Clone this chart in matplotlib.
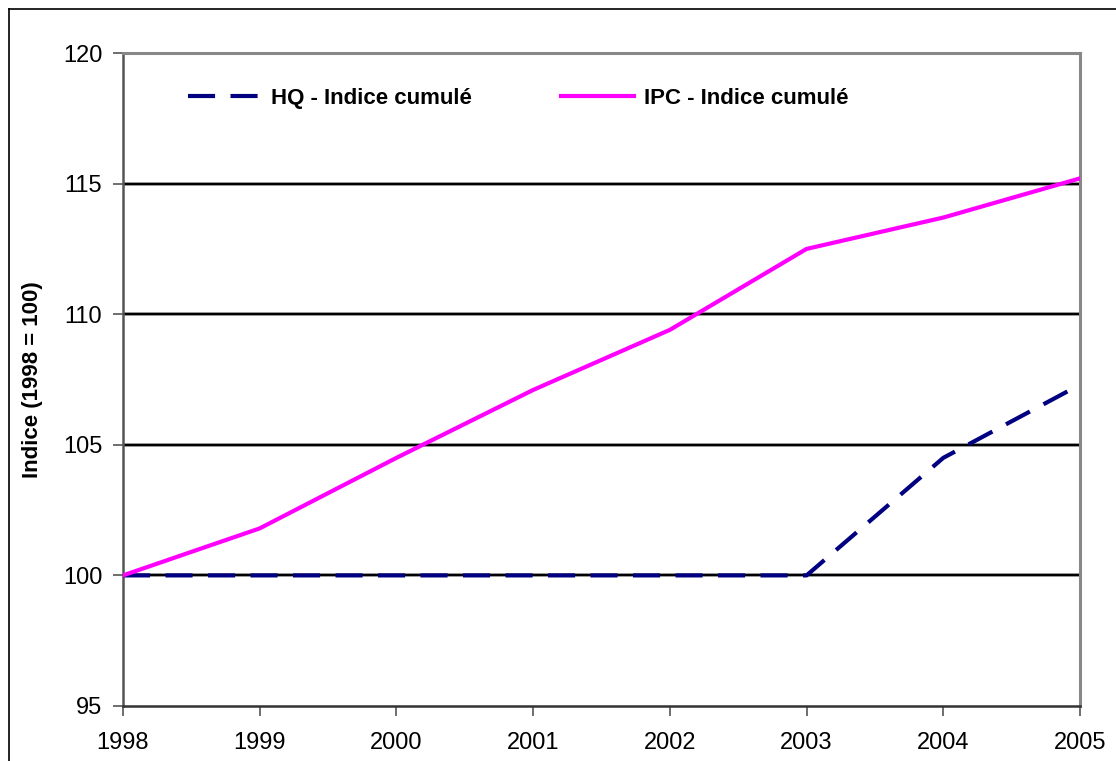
import matplotlib
matplotlib.use("Agg")
import matplotlib.pyplot as plt
from matplotlib.lines import Line2D

plt.rcParams['font.family'] = ['Liberation Sans', 'DejaVu Sans']

years = [1998, 1999, 2000, 2001, 2002, 2003, 2004, 2005]
hq_values = [100.0, 100.0, 100.0, 100.0, 100.0, 100.0, 104.5, 107.3]
ipc_values = [100.0, 101.8, 104.5, 107.1, 109.4, 112.5, 113.7, 115.2]
hq_label = "HQ - Indice cumulé"
ipc_label = "IPC - Indice cumulé"
y_ticks = [95, 100, 105, 110, 115, 120]
y_label = "Indice (1998 = 100)"

W, H = 1116, 761
fig = plt.figure(figsize=(W / 100, H / 100), dpi=100)
ax = fig.add_axes([123 / W, 1 - 706 / H, (1080 - 123) / W, (706 - 53) / H])

# grid lines
for v in y_ticks[1:-1]:
    ax.axhline(v, color='#999999', linewidth=2.6, zorder=1)
    ax.axhline(v, color='black', linewidth=1.6, zorder=1)

ax.plot(years, hq_values, color='#000080', linewidth=3.0, dashes=(6.5, 3.7),
        label=hq_label, zorder=3, dash_capstyle='butt')
ax.plot(years, ipc_values, color='#FF00FF', linewidth=3.0,
        label=ipc_label, zorder=3)

ax.set_xlim(1998, 2005)
ax.set_ylim(95, 120)
ax.set_xticks(years)
ax.set_yticks(y_ticks)
ax.tick_params(axis='both', direction='out', length=7, width=1.2,
               colors='#555555', labelcolor='black', labelsize=17)
ax.tick_params(axis='y', pad=8)
ax.tick_params(axis='x', pad=12)

for side in ['top', 'right']:
    ax.spines[side].set_color('#888888')
    ax.spines[side].set_linewidth(2.2)
ax.spines['left'].set_color('#555555')
ax.spines['left'].set_linewidth(1.8)
ax.spines['bottom'].set_color('#333333')
ax.spines['bottom'].set_linewidth(1.8)

ax.set_ylabel(y_label, fontsize=16, fontweight='bold', labelpad=14)

leg = ax.legend(loc='upper left', bbox_to_anchor=(65 / 957, 1 - 35 / 653),
                ncol=2, frameon=False, borderpad=0, borderaxespad=0,
                handlelength=3.3, handletextpad=0.45, columnspacing=4.0,
                prop={'weight': 'bold', 'size': 16})

# outer frame
fig.add_artist(Line2D([9 / W, 9 / W], [0, 1 - 9 / H], transform=fig.transFigure,
                      color='black', linewidth=1.2))
fig.add_artist(Line2D([9 / W, 1], [1 - 9 / H, 1 - 9 / H], transform=fig.transFigure,
                      color='black', linewidth=1.2))

fig.savefig("out.png", dpi=100)
